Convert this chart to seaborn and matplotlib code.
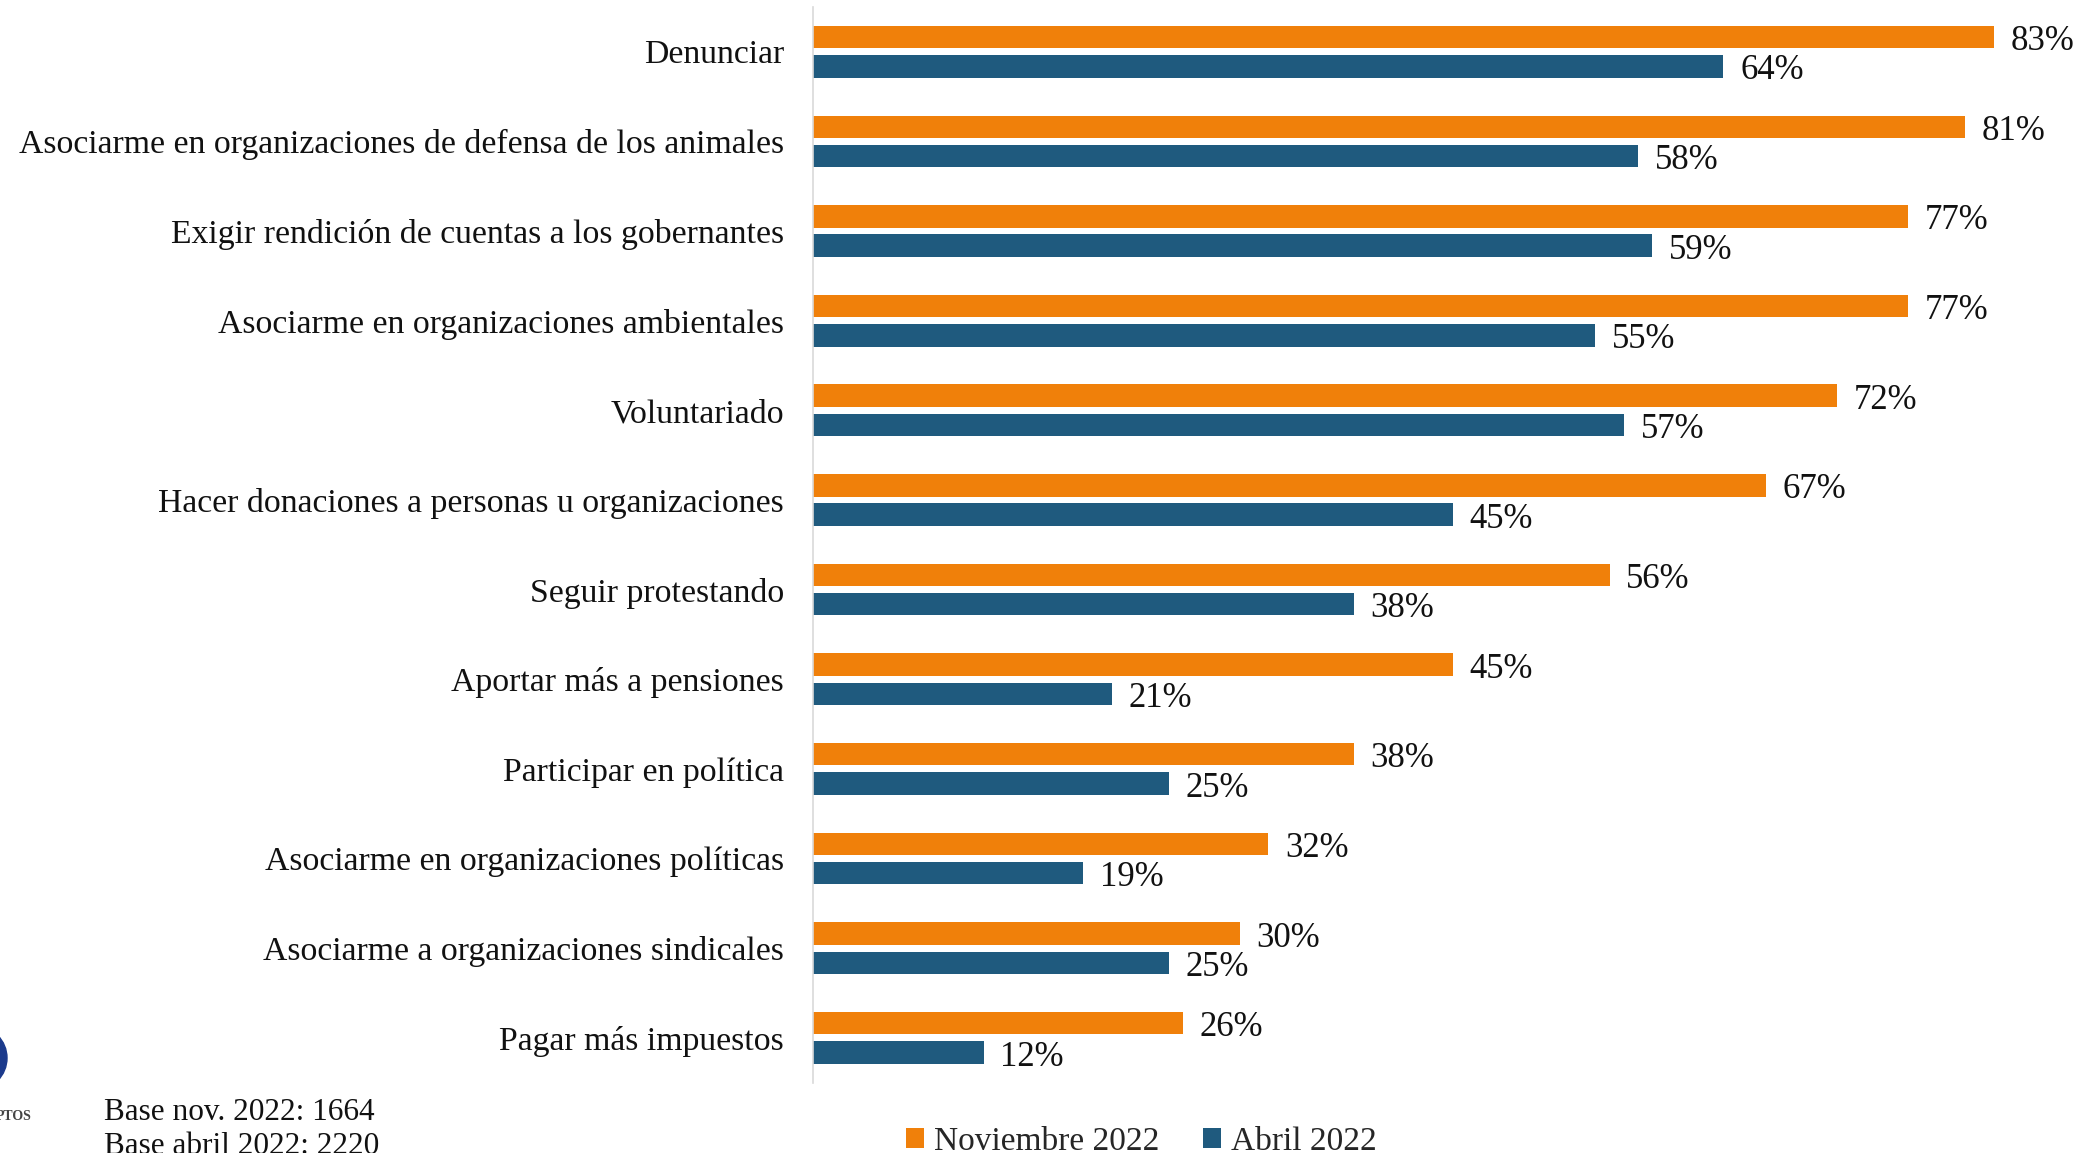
import pandas as pd
import matplotlib.pyplot as plt
import seaborn as sns
from matplotlib.patches import Ellipse

# datos del gráfico
categorias = [
    "Denunciar",
    "Asociarme en organizaciones de defensa de los animales",
    "Exigir rendición de cuentas a los gobernantes",
    "Asociarme en organizaciones ambientales",
    "Voluntariado",
    "Hacer donaciones a personas u organizaciones",
    "Seguir protestando",
    "Aportar más a pensiones",
    "Participar en política",
    "Asociarme en organizaciones políticas",
    "Asociarme a organizaciones sindicales",
    "Pagar más impuestos",
]
noviembre_2022 = [83, 81, 77, 77, 72, 67, 56, 45, 38, 32, 30, 26]
abril_2022 = [64, 58, 59, 55, 57, 45, 38, 21, 25, 19, 25, 12]
series = ["Noviembre 2022", "Abril 2022"]
colores = ["#F0800A", "#1F5A7E"]

df = pd.DataFrame({
    "categoria": categorias * 2,
    "valor": noviembre_2022 + abril_2022,
    "serie": [series[0]] * len(categorias) + [series[1]] * len(categorias),
})

sns.set_style("white")
plt.rcParams["font.family"] = ["Liberation Serif", "DejaVu Serif"]

fig = plt.figure(figsize=(20.9, 11.53), dpi=100)
ax = fig.add_axes([0.389, 0.061, 0.599, 0.933])

sns.barplot(data=df, y="categoria", x="valor", hue="serie", hue_order=series,
            palette=colores, saturation=1, orient="h", width=0.654, gap=0.235,
            linewidth=0, ax=ax)

ax.set_xlim(0, 88)
ax.set_ylim(11.5, -0.5)
ax.set_xlabel("")
ax.set_ylabel("")
ax.set_xticks([])
ax.tick_params(axis="y", length=0, pad=21, labelsize=24.3, labelcolor="#111111")
for lado in ["top", "right", "bottom"]:
    ax.spines[lado].set_visible(False)
ax.spines["left"].set_color("#d9d9d9")
ax.spines["left"].set_linewidth(1.2)

# etiquetas de valores (un poco más abajo que el centro de la barra)
for cont in ax.containers:
    textos = ax.bar_label(cont, fmt="{:.0f}%", padding=12, fontsize=25, color="#111111")
    for t in textos:
        t.xyann = (12, -3.3)

# leyenda abajo
handles, labels = ax.get_legend_handles_labels()
ax.get_legend().remove()
fig.legend(handles, labels, loc="center", bbox_to_anchor=(0.546, 0.01), ncol=2,
           frameon=False, fontsize=24, handlelength=0.55, handleheight=0.55,
           handletextpad=0.3, columnspacing=1.3)

# textos de base
fig.text(104 / 2090, 1 - 1113 / 1153, "Base nov. 2022: 1664", fontsize=22.5,
         va="center", ha="left", color="#111111")
fig.text(104 / 2090, 1 - 1146 / 1153, "Base abril 2022: 2220", fontsize=22.5,
         va="center", ha="left", color="#111111")

# fragmento del logo
fig.patches.append(Ellipse((-25 / 2090, 1 - 1058 / 1153), 64 / 2090, 64 / 1153,
                           transform=fig.transFigure, color="#1B3A8C"))
fig.text(32 / 2090, 1 - 1116 / 1153, "PTOS", fontsize=10, fontweight="bold",
         ha="right", va="center", color="#444444")

fig.savefig("out.png", dpi=100)
